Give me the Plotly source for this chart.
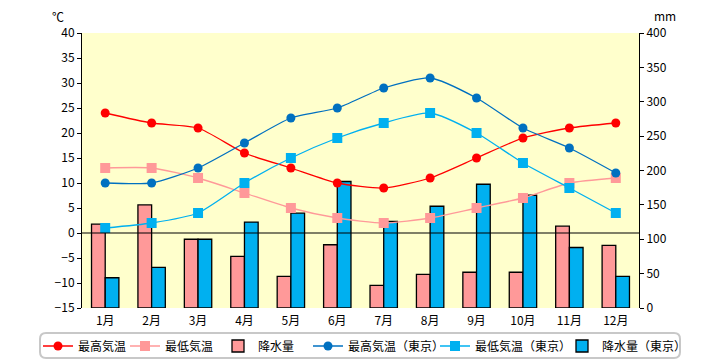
import plotly.graph_objects as go

months = ["1月", "2月", "3月", "4月", "5月", "6月", "7月", "8月", "9月", "10月", "11月", "12月"]
max_temp = [24, 22, 21, 16, 13, 10, 9, 11, 15, 19, 21, 22]
min_temp = [13, 13, 11, 8, 5, 3, 2, 3, 5, 7, 10, 11]
precip = [122, 150, 100, 75, 46, 92, 33, 49, 52, 52, 119, 91]
tokyo_max = [10, 10, 13, 18, 23, 25, 29, 31, 27, 21, 17, 12]
tokyo_min = [1, 2, 4, 10, 15, 19, 22, 24, 20, 14, 9, 4]
tokyo_precip = [44, 59, 100, 125, 138, 184, 126, 148, 180, 164, 88, 46]

temp_ticks = list(range(-15, 41, 5))
mm_ticks = list(range(0, 401, 50))

FONT = "Noto Sans CJK JP"
# the page body has an 8px default margin, so the figure is drawn 8px smaller and everything shifted
OFF = 8
W, H = 720 - OFF, 360 - OFF
L, R, T, B = 82, 639, 33, 308  # plot area in window pixels
PW, PH = R - L, B - T


def px(x):
    return (x - L) / PW


def py(y):
    return (B - y) / PH


fig = go.Figure()


def line(name, y, color, symbol, leg):
    return go.Scatter(x=months, y=y, name=name, yaxis="y2", mode="lines+markers", legend=leg,
                      line=dict(color=color, width=1.3, shape="spline", smoothing=0.6),
                      marker=dict(color=color, symbol=symbol, size=9 if symbol == "circle" else 10))


fig.add_trace(go.Bar(x=months, y=precip, name="降水量", yaxis="y", legend="legend3",
                     marker=dict(color="#FF9999", line=dict(color="black", width=1.3))))
fig.add_trace(go.Bar(x=months, y=tokyo_precip, name="降水量（東京）", yaxis="y", legend="legend6",
                     marker=dict(color="#00B0F0", line=dict(color="black", width=1.3))))
fig.add_trace(line("最高気温", max_temp, "#FF0000", "circle", "legend"))
fig.add_trace(line("最低気温", min_temp, "#FF9999", "square", "legend2"))
fig.add_trace(line("最高気温（東京）", tokyo_max, "#0070C0", "circle", "legend4"))
fig.add_trace(line("最低気温（東京）", tokyo_min, "#00B0F0", "square", "legend5"))

axis_common = dict(showgrid=False, zeroline=False, showline=True, linecolor="black", linewidth=1,
                   ticks="outside", ticklen=4, tickcolor="black",
                   tickfont=dict(family=FONT, size=12, color="black"))

# legend text start positions (window pixels)
text_starts = [78, 165, 258, 348, 475, 602]
legend_cfg = {}
for i, xs in enumerate(text_starts):
    key = "legend" if i == 0 else f"legend{i + 1}"
    legend_cfg[key] = dict(orientation="h", x=px(xs - 40), xanchor="left", y=py(346), yanchor="middle",
                           font=dict(family=FONT, size=12, color="black"),
                           bgcolor="rgba(0,0,0,0)", borderwidth=0, itemwidth=30)

fig.update_layout(
    width=W, height=H,
    margin=dict(l=L - OFF, r=W - (R - OFF), t=T - OFF, b=H - (B - OFF), autoexpand=False),
    paper_bgcolor="white", plot_bgcolor="#FFFFCC",
    barmode="group", bargap=0.41, bargroupgap=0,
    xaxis=dict(type="category", range=[-0.5, len(months) - 0.5], showgrid=False, zeroline=False,
               showline=False, ticks="", ticklabelstandoff=4,
               tickfont=dict(family=FONT, size=12, color="black")),
    yaxis=dict(side="right", range=[0, 400], tickvals=mm_ticks, **axis_common),
    yaxis2=dict(side="left", overlaying="y", range=[-15, 40], tickvals=temp_ticks, **axis_common),
    showlegend=True,
    font=dict(family=FONT),
    **legend_cfg,
)

# zero line at 0°C, drawn above bars
fig.add_shape(type="line", xref="paper", yref="y2", x0=0, x1=1, y0=0, y1=0,
              line=dict(color="black", width=1.2), layer="above")

# rounded legend frame
x0, x1, y0, y1 = px(40), px(680), py(358), py(333)
rx, ry = 6 / PW, 6 / PH
path = (f"M {x0+rx},{y1} L {x1-rx},{y1} Q {x1},{y1} {x1},{y1-ry} L {x1},{y0+ry} "
        f"Q {x1},{y0} {x1-rx},{y0} L {x0+rx},{y0} Q {x0},{y0} {x0},{y0+ry} "
        f"L {x0},{y1-ry} Q {x0},{y1} {x0+rx},{y1} Z")
fig.add_shape(type="path", path=path, xref="paper", yref="paper",
              line=dict(color="#C8C8C8", width=2), layer="above")

fig.add_annotation(text="℃", xref="paper", yref="paper", x=px(58), y=py(16),
                   xanchor="center", yanchor="middle",
                   showarrow=False, font=dict(family=FONT, size=12, color="black"))
fig.add_annotation(text="mm", xref="paper", yref="paper", x=px(665), y=py(15),
                   xanchor="center", yanchor="middle",
                   showarrow=False, font=dict(family=FONT, size=12, color="black"))

fig.write_html("out.html")
